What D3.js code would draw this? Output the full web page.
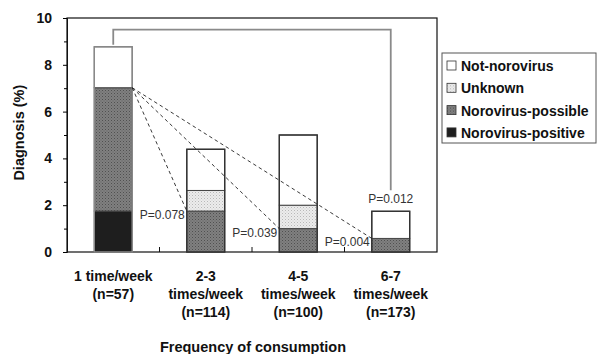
<!DOCTYPE html>
<html>
<head>
<meta charset="utf-8">
<script src="https://cdn.jsdelivr.net/npm/d3@7"></script>
<style>
  body { margin: 0; background: #fff; }
  svg text { font-family: "Liberation Sans", Arial, sans-serif; }
</style>
</head>
<body>
<svg id="chart" width="600" height="354"></svg>
<script>
/*
** Data
*/
var categories = ["1 time/week", "2-3 times/week", "4-5 times/week", "6-7 times/week"]
  , categoryLines = [
        ["1 time/week", "(n=57)"]
      , ["2-3", "times/week", "(n=114)"]
      , ["4-5", "times/week", "(n=100)"]
      , ["6-7", "times/week", "(n=173)"]
    ]
  , positive = [1.75, 0, 0, 0]
  , possible = [5.27, 1.75, 1.0, 0.58]
  , unknown = [0, 0.88, 1.0, 0]
  , notNorovirus = [1.75, 1.76, 3.0, 1.16]
  , seriesNames = ["Norovirus-positive", "Norovirus-possible", "Unknown", "Not-norovirus"]
  , legendOrder = ["Not-norovirus", "Unknown", "Norovirus-possible", "Norovirus-positive"]
  , yTicks = [0, 2, 4, 6, 8, 10]
  , yMinorTicks = [1, 3, 5, 7, 9]
  , pDashed = [
        { to: 1, label: "P=0.078" }
      , { to: 2, label: "P=0.039" }
      , { to: 3, label: "P=0.004" }
    ]
  , pBracket = { from: 0, to: 3, level: 9.5, label: "P=0.012" }
;

/*
** Layout
*/
var svg = d3.select("#chart")
  , plot = { left: 67, right: 437, top: 18, bottom: 252 }
  , x = d3.scaleBand()
      .domain(categories)
      .range([plot.left, plot.right])
      .paddingInner(0.59)
      .paddingOuter(0.295)
  , y = d3.scaleLinear().domain([0, 10]).range([plot.bottom, plot.top])
  , ink = "#111"
;

var table = categories.map(function(c, i) {
    return {
        category: c
      , "Norovirus-positive": positive[i]
      , "Norovirus-possible": possible[i]
      , "Unknown": unknown[i]
      , "Not-norovirus": notNorovirus[i]
    };
  });
var stacked = d3.stack().keys(seriesNames)(table);
var totals = table.map(function(d) {
    return d3.sum(seriesNames, function(k) { return d[k]; });
  });

// patterns
var defs = svg.append("defs");
var pPossible = defs.append("pattern")
    .attr("id", "pat-possible").attr("patternUnits", "userSpaceOnUse")
    .attr("width", 3).attr("height", 3);
pPossible.append("rect").attr("width", 3).attr("height", 3).attr("fill", "#808080");
pPossible.append("rect").attr("width", 1).attr("height", 1).attr("fill", "#505050");
pPossible.append("rect").attr("x", 1.5).attr("y", 1.5).attr("width", 1).attr("height", 1).attr("fill", "#626262");

var pUnknown = defs.append("pattern")
    .attr("id", "pat-unknown").attr("patternUnits", "userSpaceOnUse")
    .attr("width", 3).attr("height", 3);
pUnknown.append("rect").attr("width", 3).attr("height", 3).attr("fill", "#ececec");
pUnknown.append("rect").attr("width", 1).attr("height", 1).attr("fill", "#b8b8b8");
pUnknown.append("rect").attr("x", 1.5).attr("y", 1.5).attr("width", 1).attr("height", 1).attr("fill", "#cfcfcf");

var fills = {
    "Norovirus-positive": "#1e1e1e"
  , "Norovirus-possible": "url(#pat-possible)"
  , "Unknown": "url(#pat-unknown)"
  , "Not-norovirus": "#ffffff"
};

// plot frame
svg.append("rect")
    .attr("x", plot.left).attr("y", plot.top)
    .attr("width", plot.right - plot.left).attr("height", plot.bottom - plot.top)
    .attr("fill", "none").attr("stroke", ink).attr("stroke-width", 1.2);

// bars
svg.append("g").selectAll("g")
  .data(stacked)
  .join("g")
    .attr("fill", function(s) { return fills[s.key]; })
  .selectAll("rect")
  .data(function(s) { return s.filter(function(d) { return d[1] - d[0] > 0; }); })
  .join("rect")
    .attr("x", function(d) { return x(d.data.category); })
    .attr("y", function(d) { return y(d[1]); })
    .attr("width", x.bandwidth())
    .attr("height", function(d) { return y(d[0]) - y(d[1]); })
    .attr("stroke", "#444")
    .attr("stroke-width", 1);

// bar outlines
svg.append("g").selectAll("rect")
  .data(table)
  .join("rect")
    .attr("x", function(d) { return x(d.category); })
    .attr("y", function(d, i) { return y(totals[i]); })
    .attr("width", x.bandwidth())
    .attr("height", function(d, i) { return y(0) - y(totals[i]); })
    .attr("fill", "none")
    .attr("stroke", function(d, i) { return i === 0 ? "#8a8a8a" : "#333"; })
    .attr("stroke-width", 1.4);

// y axis
var yAxis = svg.append("g")
    .attr("transform", "translate(" + plot.left + ",0)")
    .call(d3.axisLeft(y).tickValues(yTicks).tickSize(4).tickPadding(11).tickFormat(d3.format("d")));
yAxis.select(".domain").attr("stroke", ink);
yAxis.selectAll("text")
    .attr("font-size", 14).attr("font-weight", "bold").attr("fill", ink);
svg.append("g")
    .attr("transform", "translate(" + plot.left + ",0)")
    .call(d3.axisLeft(y).tickValues(yMinorTicks).tickSize(3).tickFormat(""))
    .select(".domain").remove();

svg.append("text")
    .attr("transform", "translate(24," + y(5.1) + ") rotate(-90)")
    .attr("text-anchor", "middle")
    .attr("font-size", 14.5).attr("font-weight", "bold").attr("fill", ink)
    .text("Diagnosis (%)");

// x axis: ticks between categories
var boundaries = categories.slice(1).map(function(c) {
    return x(c) - x.step() * x.paddingInner() / 2;
  });
svg.append("g").selectAll("line")
  .data(boundaries)
  .join("line")
    .attr("x1", function(d) { return d; }).attr("x2", function(d) { return d; })
    .attr("y1", y(0)).attr("y2", y(0) - 5)
    .attr("stroke", ink);

var xLabels = svg.append("g").selectAll("text")
  .data(categories)
  .join("text")
    .attr("text-anchor", "middle")
    .attr("font-size", 14).attr("font-weight", "bold").attr("fill", ink)
    .attr("transform", function(c) {
        return "translate(" + (x(c) + x.bandwidth() / 2) + "," + 281 + ")";
      });
xLabels.selectAll("tspan")
  .data(function(c) { return categoryLines[categories.indexOf(c)]; })
  .join("tspan")
    .attr("x", 0)
    .attr("dy", function(d, i) { return i === 0 ? 0 : 18; })
    .text(function(d) { return d; });

svg.append("text")
    .attr("x", 253).attr("y", 352)
    .attr("text-anchor", "middle")
    .attr("font-size", 14.5).attr("font-weight", "bold").attr("fill", ink)
    .text("Frequency of consumption");

// dashed comparisons
var fromX = x(categories[0]) + x.bandwidth()
  , fromY = y(positive[0] + possible[0])
;
svg.append("g").selectAll("line")
  .data(pDashed)
  .join("line")
    .attr("x1", fromX).attr("y1", fromY)
    .attr("x2", function(d) { return x(categories[d.to]); })
    .attr("y2", function(d) { return y(positive[d.to] + possible[d.to]); })
    .attr("stroke", "#222").attr("stroke-width", 0.9)
    .attr("stroke-dasharray", "3.5 3");

svg.append("g").selectAll("text")
  .data(pDashed)
  .join("text")
    .attr("x", function(d) { return x(categories[d.to]) - 2; })
    .attr("y", function(d) { return y(positive[d.to] + possible[d.to]) + 8; })
    .attr("text-anchor", "end")
    .attr("font-size", 12).attr("fill", "#333")
    .text(function(d) { return d.label; });

// bracket
var bx1 = x(categories[pBracket.from]) + x.bandwidth() / 2
  , bx2 = x(categories[pBracket.to]) + x.bandwidth() / 2
  , by = y(pBracket.level)
;
svg.append("path")
    .attr("d", d3.line()([
        [bx1, y(totals[pBracket.from]) - 2]
      , [bx1, by]
      , [bx2, by]
      , [bx2, y(totals[pBracket.to]) - 21]
    ]))
    .attr("fill", "none").attr("stroke", "#8a8a8a").attr("stroke-width", 1.8);
svg.append("text")
    .attr("x", bx2).attr("y", y(totals[pBracket.to]) - 8)
    .attr("text-anchor", "middle")
    .attr("font-size", 12).attr("fill", "#333")
    .text(pBracket.label);

// legend
var legend = svg.append("g").attr("transform", "translate(442,53)");
legend.append("rect")
    .attr("width", 154).attr("height", 90)
    .attr("fill", "#fff").attr("stroke", "#555").attr("stroke-width", 1);
var item = legend.selectAll("g.item")
  .data(legendOrder)
  .join("g")
    .attr("class", "item")
    .attr("transform", function(d, i) { return "translate(5," + (13 + i * 22.3) + ")"; });
item.append("rect")
    .attr("x", 0).attr("y", -5).attr("width", 9).attr("height", 9)
    .attr("fill", function(d) { return fills[d]; })
    .attr("stroke", "#333").attr("stroke-width", 0.8);
item.append("text")
    .attr("x", 14).attr("y", 5)
    .attr("font-size", 14).attr("font-weight", "bold").attr("fill", ink)
    .text(function(d) { return d; });
</script>
</body>
</html>
